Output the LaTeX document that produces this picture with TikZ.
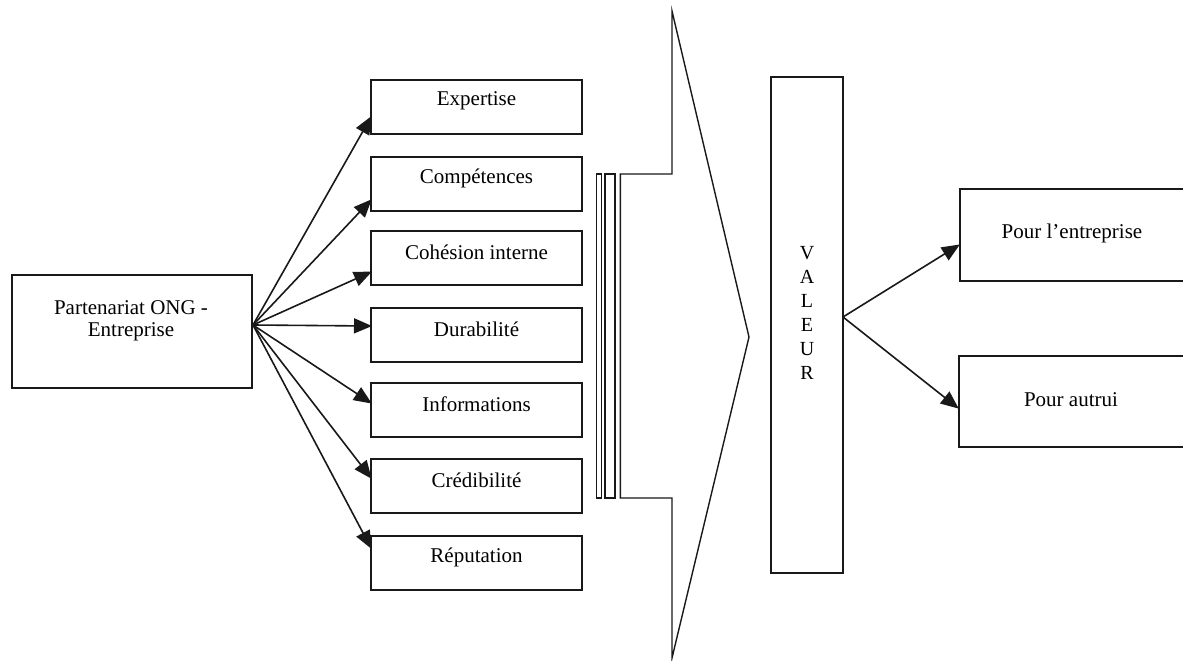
\documentclass[tikz,border=0pt]{standalone}
\usepackage{fontspec}
\setmainfont{Liberation Serif}
\usetikzlibrary{arrows.meta,calc}
\begin{document}
\begin{tikzpicture}[x=1pt,y=-1pt,
  box/.style={draw=black!90, line width=1.6pt, rectangle, inner sep=0pt},
  lbl/.style={font=\fontsize{21}{22}\selectfont, inner sep=0pt, align=center, text=black},
  arr/.style={draw=black!90, line width=1.6pt, -{Triangle[length=18pt,width=15pt]}, shorten >=-1pt}]
\useasboundingbox (0,0) rectangle (1183,661);
\clip (0,0) rectangle (1183,661);
\fill[white] (0,0) rectangle (1183,661);
% source
\node[box, minimum width=240pt, minimum height=113pt] (src) at (132,331.5) {};
\node[lbl] (srct) at (131,321) {Partenariat ONG -\\Entreprise};
\coordinate (s) at (253,325);
% middle boxes
\foreach \n/\t/\top/\ty in {e/Expertise/80/117, c/Compétences/157/200, h/Cohésion interne/231/272, d/Durabilité/308/326, i/Informations/383/403, r/Crédibilité/459/478, p/Réputation/536/548}{
  \node[box, minimum width=211pt, minimum height=54pt] (\n) at (476.5,\top+27) {};
  \node[lbl] (\n t) at (476.5,\top+21) {\t};
  \coordinate (\n a) at (371,\ty);
  \draw[arr] (s) -- (\n a);
}
% bars
\draw[black!90, line width=1.1pt] (596.7,174) rectangle (601.3,498);
\draw[black!90, line width=1.1pt] (605,174) rectangle (615,498);
% big arrow
\draw[black!90, line width=1.4pt, line join=miter] (620.3,174) -- (672,174) -- (672,11) -- (749,337) -- (672,658) -- (672,498) -- (620.3,498) -- cycle;
% VALEUR
\node[box, minimum width=72pt, minimum height=496pt] (val) at (807,325) {};
\node[lbl, font=\fontsize{20}{24}\selectfont] (valt) at (807,313) {V\\A\\L\\E\\U\\R};
\coordinate (v) at (843,317);
% right boxes
\node[box, minimum width=260pt, minimum height=92pt, anchor=north west] (pe) at (959,188) {};
\node[lbl] (pet) at (1072,233) {Pour l’entreprise};
\node[box, minimum width=260pt, minimum height=91pt, anchor=north west] (pa) at (958,355) {};
\node[lbl] (pat) at (1071,400) {Pour autrui};
\coordinate (pea) at (959,245);
\coordinate (paa) at (958,408);
\draw[arr] (v) -- (pea);
\draw[arr] (v) -- (paa);
\end{tikzpicture}
\end{document}
